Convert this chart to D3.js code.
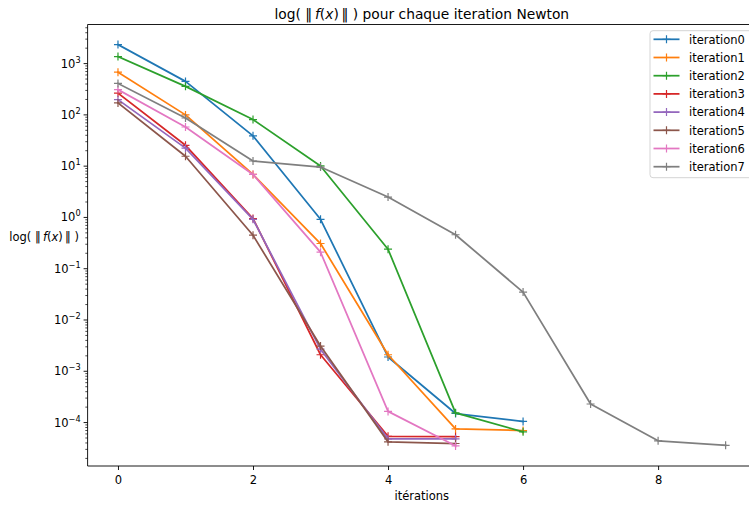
<!DOCTYPE html>
<html>
<head>
<meta charset="utf-8">
<script src="https://cdn.jsdelivr.net/npm/d3@7"></script>
<style>
  html, body { margin: 0; padding: 0; background: #fff; overflow: hidden; }
  svg { display: block; font-family: "DejaVu Sans", sans-serif; }
</style>
</head>
<body>
<svg id="chart" width="749" height="505"></svg>
<script>
// values (||f(x)|| per Newton step)
const iteration0 = [2350, 450, 39, 0.92, 1.9e-3, 1.5e-4, 1.05e-4];
const iteration1 = [680, 100, 6.9, 0.31, 2.1e-3, 7.5e-5, 7.0e-5];
const iteration2 = [1370, 360, 81, 10.1, 0.24, 1.55e-4, 6.6e-5];
const iteration3 = [265, 25.5, 0.95, 2.1e-3, 5.4e-5, 5.3e-5];
const iteration4 = [198, 22.5, 0.92, 2.7e-3, 4.8e-5, 4.8e-5];
const iteration5 = [171, 15.6, 0.45, 3.1e-3, 4.2e-5, 3.9e-5];
const iteration6 = [311, 58, 6.9, 0.21, 1.65e-4, 3.5e-5];
const iteration7 = [410, 87, 12.6, 9.6, 2.5, 0.46, 0.035, 2.3e-4, 4.4e-5, 3.6e-5];

const seriesNames = ["iteration0", "iteration1", "iteration2", "iteration3", "iteration4", "iteration5", "iteration6", "iteration7"];
const seriesValues = [iteration0, iteration1, iteration2, iteration3, iteration4, iteration5, iteration6, iteration7];
const colors = ["#1f77b4", "#ff7f0e", "#2ca02c", "#d62728", "#9467bd", "#8c564b", "#e377c2", "#7f7f7f"];
const xTicks = [0, 2, 4, 6, 8];
const yExponents = [-4, -3, -2, -1, 0, 1, 2, 3];

const W = 749, H = 505;
const m = { top: 24.5, left: 87.6, right: 756, bottom: 466 };
const iW = m.right - m.left, iH = m.bottom - m.top;

const svg = d3.select("#chart");
const g = svg.append("g").attr("transform", `translate(${m.left},${m.top})`);

// scales with matplotlib-like 5% margins
const maxLen = d3.max(seriesValues, s => s.length) - 1;
const x = d3.scaleLinear().domain([-0.05 * maxLen, maxLen * 1.05]).range([0, iW]);
const all = seriesValues.flat();
const lo = Math.log10(d3.min(all)), hi = Math.log10(d3.max(all));
const pad = (hi - lo) * 0.05;
const y = d3.scaleLog().domain([10 ** (lo - pad), 10 ** (hi + pad)]).range([iH, 0]);

// lines
const line = d3.line().x((d, i) => x(i)).y(d => y(d));
seriesValues.forEach((vals, k) => {
  g.append("path").datum(vals)
    .attr("d", line).attr("fill", "none")
    .attr("stroke", colors[k]).attr("stroke-width", 1.75)
    .attr("stroke-linejoin", "round").attr("stroke-linecap", "square");
  g.append("g").selectAll("path").data(vals).join("path")
    .attr("d", (d, i) => `M${x(i) - 4},${y(d)}H${x(i) + 4}M${x(i)},${y(d) - 4}V${y(d) + 4}`)
    .attr("stroke", colors[k]).attr("stroke-width", 1.2);
});

// spines
g.append("line").attr("x1", 0).attr("x2", 0).attr("y1", 0).attr("y2", iH).attr("stroke", "#000").attr("stroke-width", 0.9);
g.append("line").attr("x1", 0).attr("x2", iW).attr("y1", iH).attr("y2", iH).attr("stroke", "#000").attr("stroke-width", 0.9);
g.append("line").attr("x1", 0).attr("x2", iW).attr("y1", 0).attr("y2", 0).attr("stroke", "#000").attr("stroke-width", 0.9);

// x axis
g.append("g")
  .attr("transform", `translate(0,${iH})`)
  .call(d3.axisBottom(x).tickValues(xTicks).tickSize(4).tickFormat(d3.format("d")))
  .call(ax => {
    ax.select(".domain").remove();
    ax.selectAll(".tick line").attr("stroke", "#000").attr("stroke-width", 0.9);
    ax.selectAll(".tick text").attr("fill", "#000").style("font-size", "11.5px").style("font-family", "DejaVu Sans").attr("dy", "0.95em");
  });

// y axis: minor ticks
const [d0, d1] = y.domain();
const minors = [];
for (let e = Math.floor(Math.log10(d0)); e <= Math.ceil(Math.log10(d1)); e++) {
  for (let k = 2; k <= 9; k++) {
    const v = k * 10 ** e;
    if (v >= d0 && v <= d1) minors.push(v);
  }
}
g.append("g").selectAll("line").data(minors).join("line")
  .attr("x1", -2.3).attr("x2", 0).attr("y1", d => y(d)).attr("y2", d => y(d))
  .attr("stroke", "#000").attr("stroke-width", 0.7);

// y axis: major ticks with 10^n labels
const yMaj = g.append("g").selectAll("g").data(yExponents).join("g")
  .attr("transform", d => `translate(0,${y(10 ** d)})`);
yMaj.append("line").attr("x1", -4).attr("x2", 0).attr("stroke", "#000").attr("stroke-width", 0.9);
const lbl = yMaj.append("text").attr("x", -7).attr("y", 4)
  .attr("text-anchor", "end").style("font-size", "11.5px").attr("fill", "#000");
lbl.append("tspan").text("10");
lbl.append("tspan").attr("dy", -5).style("font-size", "8.2px").text(d => d < 0 ? "\u2212" + (-d) : d);

// math-like label: log( ‖ f(x) ‖ )
function normLabel(t, tail) {
  t.append("tspan").text("log( \u2016\u2009");
  t.append("tspan").style("font-style", "italic").text("f");
  t.append("tspan").text("(");
  t.append("tspan").style("font-style", "italic").text("x");
  t.append("tspan").text(")\u2009\u2016 )" + tail);
}

// title
const title = svg.append("text").attr("x", m.left + iW / 2).attr("y", 18.5)
  .attr("text-anchor", "middle").style("font-size", "13.8px").attr("fill", "#000");
normLabel(title, " pour chaque iteration Newton");

// axis labels
svg.append("text").attr("x", m.left + iW / 2).attr("y", 500)
  .attr("text-anchor", "middle").style("font-size", "11.5px").attr("fill", "#000")
  .text("itérations");
const yl = svg.append("text").attr("x", 79).attr("y", 240.5)
  .attr("text-anchor", "end").style("font-size", "11.5px").attr("fill", "#000");
normLabel(yl, "");

// legend
const legend = svg.append("g").attr("transform", "translate(650,30.7)");
legend.append("rect").attr("width", 110).attr("height", 147).attr("rx", 3)
  .attr("fill", "rgba(255,255,255,0.8)").attr("stroke", "#d0d0d0").attr("stroke-width", 0.9);
seriesNames.forEach((name, i) => {
  const row = legend.append("g").attr("transform", `translate(0,${8.6 + i * 18.2})`);
  row.append("line").attr("x1", 3.5).attr("x2", 29.5).attr("stroke", colors[i]).attr("stroke-width", 1.75);
  row.append("path").attr("d", "M12.5,0H20.5M16.5,-4V4").attr("stroke", colors[i]).attr("stroke-width", 1.2);
  row.append("text").attr("x", 39).attr("y", 4.2).style("font-size", "11.5px").attr("fill", "#000").text(name);
});
</script>
</body>
</html>
